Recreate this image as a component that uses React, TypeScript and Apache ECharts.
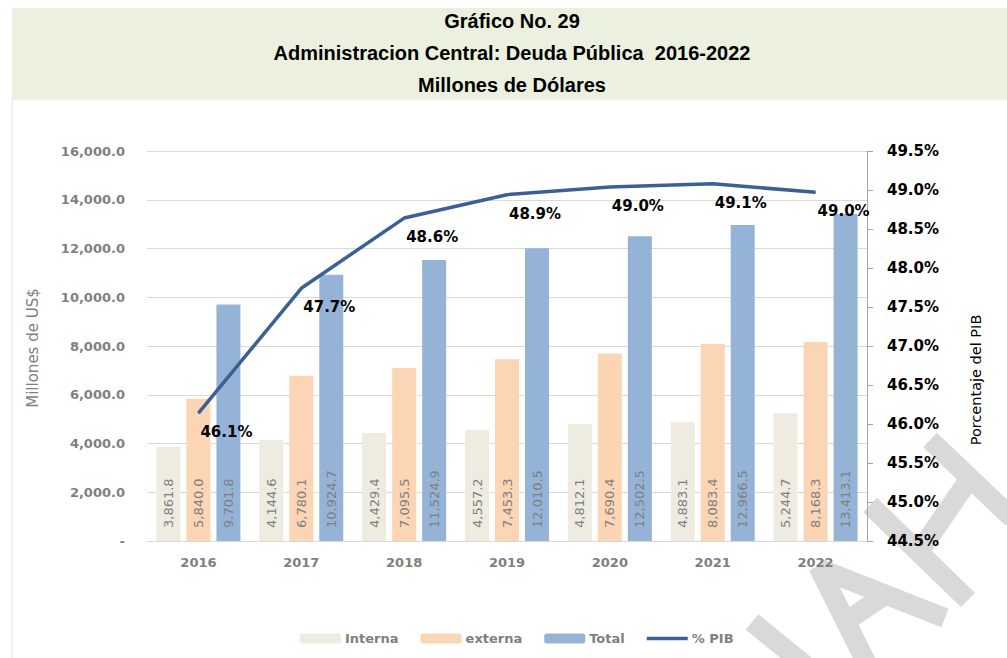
import React, { useEffect, useRef } from "react";
import * as echarts from "echarts";

const years = ["2016", "2017", "2018", "2019", "2020", "2021", "2022"];
const interna = [3861.8, 4144.6, 4429.4, 4557.2, 4812.1, 4883.1, 5244.7];
const externa = [5840.0, 6780.1, 7095.5, 7453.3, 7690.4, 8083.4, 8168.3];
const total = [9701.8, 10924.7, 11524.9, 12010.5, 12502.5, 12966.5, 13413.1];
const pctPib = [46.14, 47.74, 48.64, 48.94, 49.04, 49.08, 48.97];
const seriesNames = ["Interna", "externa", "Total", "% PIB"];
const titleLines = [
  "Gráfico No. 29",
  "Administracion Central: Deuda Pública  2016-2022",
  "Millones de Dólares",
];
const leftAxisName = "Millones de US$";
const rightAxisName = "Porcentaje del PIB";

const FONT = "'DejaVu Sans', Verdana, sans-serif";
const TITLE_FONT = "'Liberation Sans Narrow', 'Arial Narrow', 'Liberation Sans', Arial, sans-serif";
const LINE_COLOR = "#3A6096";

const fmt = (v: number) =>
  v.toLocaleString("en-US", { minimumFractionDigits: 1, maximumFractionDigits: 1 });

const barLabel = {
  show: true,
  position: "insideBottom",
  rotate: 90,
  align: "left",
  verticalAlign: "middle",
  distance: 13,
  color: "#7f7f7f",
  fontSize: 13,
  fontFamily: FONT,
  formatter: (p: any) => fmt(p.value),
};

const wm = (x1: number, y1: number, x2: number, y2: number) => ({
  type: "line",
  z: 0,
  shape: { x1, y1, x2, y2 },
  style: { stroke: "#d9d9d9", lineWidth: 20 },
  silent: true,
});

export default function App() {
  const ref = useRef<HTMLDivElement>(null);
  useEffect(() => {
    if (!ref.current) return;
    const chart = echarts.init(ref.current, null, { renderer: "svg" });
    const option: any = {
      animation: false,
      backgroundColor: "#ffffff",
      graphic: [
        {
          type: "rect",
          z: 0,
          shape: { x: 12, y: 99, width: 1010, height: 600 },
          style: { fill: "#ffffff", stroke: "#e3e3e3", lineWidth: 1 },
          silent: true,
        },
        {
          type: "rect",
          z: 0,
          shape: { x: 12, y: 8, width: 1000, height: 91 },
          style: { fill: "#EBF1DE" },
          silent: true,
        },
        ...titleLines.map((t, i) => ({
          type: "text",
          z: 5,
          x: 512,
          y: 21 + i * 32,
          style: {
            text: t,
            fill: "#000",
            font: `bold 20px ${TITLE_FONT}`,
            textAlign: "center",
            textVerticalAlign: "middle",
          },
        })),
        {
          type: "text",
          z: 5,
          x: 33,
          y: 348,
          rotation: Math.PI / 2,
          style: {
            text: leftAxisName,
            fill: "#7f7f7f",
            font: `15px ${FONT}`,
            textAlign: "center",
            textVerticalAlign: "middle",
          },
        },
        {
          type: "text",
          z: 5,
          x: 976,
          y: 380,
          rotation: Math.PI / 2,
          style: {
            text: rightAxisName,
            fill: "#000",
            font: `14.5px ${FONT}`,
            textAlign: "center",
            textVerticalAlign: "middle",
          },
        },
        wm(752, 622, 805, 665),
        wm(818, 566, 866, 662),
        wm(818, 568, 945, 618),
        wm(845, 622, 885, 595),
        wm(870, 505, 968, 600),
        wm(930, 440, 1012, 518),
        wm(919, 552, 970, 478),
      ],
      legend: {
        data: [
          seriesNames[0],
          seriesNames[1],
          seriesNames[2],
          { name: seriesNames[3], icon: "path://M0,0H41V3.5H0Z", itemStyle: { color: LINE_COLOR } },
        ],
        left: 295,
        top: 627,
        itemWidth: 41,
        itemHeight: 10,
        itemGap: 22,
        textStyle: { color: "#7f7f7f", fontFamily: FONT, fontSize: 13, fontWeight: "bold", padding: [0, 0, 0, -1] },
      },
      grid: { left: 147, right: 140, top: 151, bottom: 117, containLabel: false },
      xAxis: {
        type: "category",
        data: years,
        axisLine: { lineStyle: { color: "#d9d9d9" } },
        axisTick: { show: false },
        axisLabel: { color: "#7f7f7f", fontFamily: FONT, fontSize: 13, fontWeight: "bold", margin: 15 },
      },
      yAxis: [
        {
          type: "value",
          min: 0,
          max: 16000,
          interval: 2000,
          axisLine: { show: false },
          axisTick: { show: false },
          splitLine: { lineStyle: { color: "#d9d9d9" } },
          axisLabel: {
            color: "#7f7f7f",
            fontFamily: FONT,
            fontSize: 13,
            fontWeight: "bold",
            margin: 22,
            formatter: (v: number) => (v === 0 ? "-" : fmt(v)),
          },
        },
        {
          type: "value",
          position: "right",
          min: 44.5,
          max: 49.5,
          interval: 0.5,
          axisLine: { show: true, lineStyle: { color: "#a6a6a6" } },
          axisTick: { show: true, length: 6, lineStyle: { color: "#a6a6a6" } },
          splitLine: { show: false },
          axisLabel: {
            color: "#000",
            fontFamily: FONT,
            fontSize: 15,
            fontWeight: "bold",
            margin: 20,
            formatter: (v: number) => v.toFixed(1) + "%",
          },
        },
      ],
      series: [
        {
          name: seriesNames[0],
          type: "bar",
          data: interna,
          barWidth: 24,
          barGap: "25%",
          itemStyle: { color: "#EEECE1" },
          label: barLabel,
        },
        {
          name: seriesNames[1],
          type: "bar",
          data: externa,
          barWidth: 24,
          barGap: "25%",
          itemStyle: { color: "#FCD5B5" },
          label: barLabel,
        },
        {
          name: seriesNames[2],
          type: "bar",
          data: total,
          barWidth: 24,
          barGap: "25%",
          itemStyle: { color: "#95B3D7" },
          label: barLabel,
        },
        {
          name: seriesNames[3],
          type: "line",
          yAxisIndex: 1,
          data: pctPib,
          symbol: "circle",
          symbolSize: 1,
          showSymbol: true,
          lineStyle: { color: LINE_COLOR, width: 3.5 },
          itemStyle: { color: LINE_COLOR },
          z: 4,
          labelLayout: { hideOverlap: false, dx: 28, dy: 6 },
          label: {
            show: true,
            position: "bottom",
            color: "#000",
            fontFamily: FONT,
            fontSize: 15,
            fontWeight: "bold",
            formatter: (p: any) => p.value.toFixed(1) + "%",
          },
        },
      ],
    };
    chart.setOption(option);
    return () => chart.dispose();
  }, []);
  return (
    <div
      ref={ref}
      style={{ position: "fixed", left: 0, top: 0, width: 1007, height: 658, background: "#fff" }}
    />
  );
}
